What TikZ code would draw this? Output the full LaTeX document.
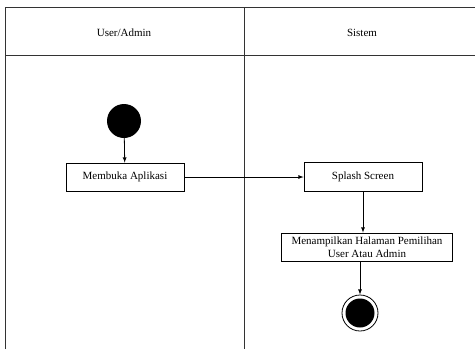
\documentclass[tikz,border=0pt]{standalone}
\usepackage{fontspec}
\setmainfont{Liberation Serif}
\usepackage{tikz}
\usetikzlibrary{arrows, calc, positioning}

\begin{document}
\begin{tikzpicture}[x=1pt, y=-1pt, font=\fontsize{11}{12.5}\selectfont,
    act/.style={draw, line width=0.8pt, inner sep=1pt, align=center},
    flow/.style={-latex, line width=0.8pt}]
    \useasboundingbox (0, 0) rectangle (475, 349);
    % swimlanes
    \draw[line width=1pt, black!80]
    (5, 349) -- (5, 7) -- (476, 7)
    (5, 55) -- (476, 55)
    (244, 7) -- (244, 349);
    \node[] (laneUser) at (124, 33) {User/Admin};
    \node[] (laneSistem) at (362, 33) {Sistem};
    % activities
    \node[circle, fill=black, minimum size=34pt, inner sep=0] (start) at (124, 121) {};
    \node[act, minimum width=118pt, minimum height=28pt] (buka) at (125, 177) {Membuka Aplikasi};
    \node[act, minimum width=118pt, minimum height=29pt] (splash) at (363, 177) {Splash Screen};
    \node[act, minimum width=171pt, minimum height=28pt] (tampil) at (367, 247) {Menampilkan Halaman Pemilihan\\User Atau Admin};
    \node[circle, draw, line width=0.8pt, minimum size=36pt, inner sep=0] (end) at (360, 313) {};
    \node[circle, fill=black, minimum size=29pt, inner sep=0] (endDot) at (end) {};
    \draw[flow] (start) -- (buka);
    \draw[flow] (buka) -- (splash);
    \draw[flow] (splash) -- (tampil.north -| splash);
    \draw[flow] (tampil.south -| end) -- (end);
\end{tikzpicture}
\end{document}
